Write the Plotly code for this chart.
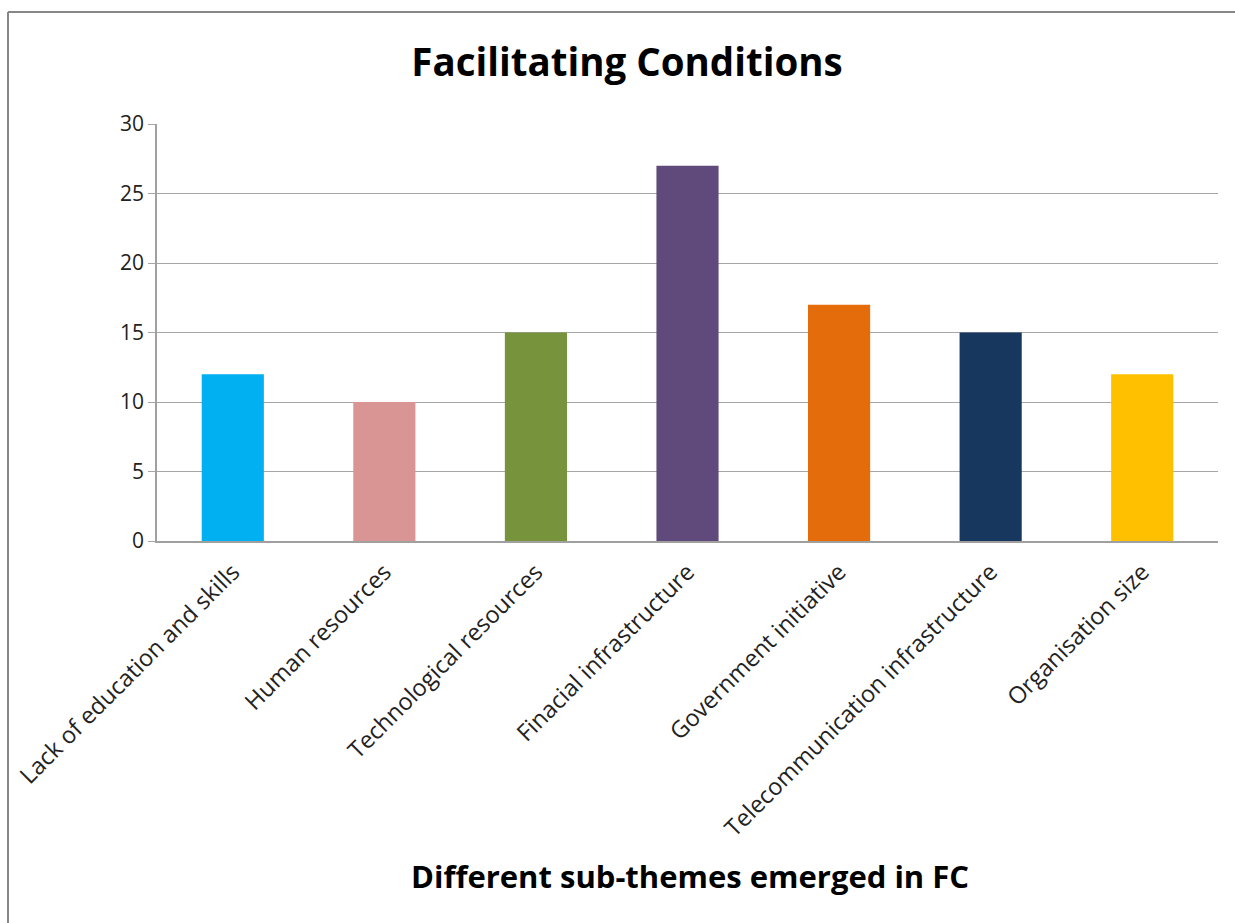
import plotly.graph_objects as go

categories = ["Lack of education and skills", "Human resources", "Technological resources",
              "Finacial infrastructure", "Government initiative",
              "Telecommunication infrastructure", "Organisation size"]
values = [12, 10, 15, 27, 17, 15, 12]
colors = ["#00B0F0", "#D99594", "#77933C", "#604A7B", "#E46C0A", "#17375E", "#FFC000"]
y_ticks = [0, 5, 10, 15, 20, 25, 30]

W, H = 1235, 923
L, R, T, B = 157, 17, 124, 382
pw, ph = W - L - R, H - T - B
FONT = "Open Sans, sans-serif"

fig = go.Figure(go.Bar(x=categories, y=values, marker=dict(color=colors, line=dict(width=0)),
                       width=0.41, showlegend=False))

fig.update_layout(
    width=W, height=H,
    margin=dict(l=L, r=R, t=T, b=B, autoexpand=False),
    paper_bgcolor="white", plot_bgcolor="white",
    font=dict(family=FONT, color="#222222"),
    title=dict(text="<b>Facilitating Conditions</b>", x=627 / W, xanchor="center",
               y=1 - 63 / H, yanchor="middle", yref="container", xref="container",
               font=dict(size=38.5, color="black", family=FONT)),
    xaxis=dict(tickangle=-45, tickfont=dict(size=23.5, color="#222222"), ticklabelstandoff=6,
               showline=True, linecolor="#A0A0A0", linewidth=2, ticks="", showgrid=False),
    yaxis=dict(range=[0, 30], tickvals=y_ticks, tickfont=dict(size=21, color="#222222"),
               showgrid=True, gridcolor="#A6A6A6", gridwidth=1,
               showline=True, linecolor="#A0A0A0", linewidth=1.5,
               ticks="outside", ticklen=7, tickcolor="#A6A6A6", zeroline=False),
    annotations=[dict(text="<b>Different sub-themes emerged in FC</b>", xref="paper", yref="paper",
                      x=(690 - L) / pw, y=(H - B - 876) / ph, xanchor="center", yanchor="middle",
                      showarrow=False, font=dict(size=31, color="black", family=FONT))],
    shapes=[
        dict(type="line", xref="paper", yref="paper", x0=(8 - L) / pw, x1=(1240 - L) / pw,
             y0=(H - B - 12) / ph, y1=(H - B - 12) / ph, line=dict(color="#878787", width=2)),
        dict(type="line", xref="paper", yref="paper", x0=(8 - L) / pw, x1=(8 - L) / pw,
             y0=(H - B - 12) / ph, y1=(H - B - 930) / ph, line=dict(color="#878787", width=2)),
    ],
)

fig.write_html("out.html", config={"displayModeBar": False},
               post_script="document.body.style.margin='0';document.body.style.overflow='hidden';")
